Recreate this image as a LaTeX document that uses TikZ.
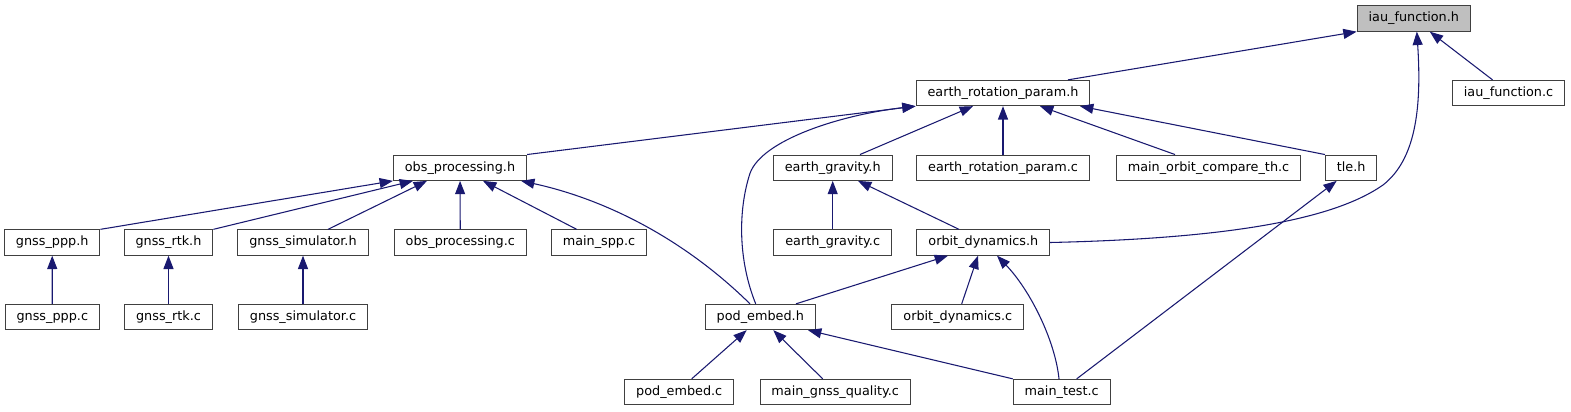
\documentclass[tikz,border=0pt]{standalone}
\usepackage{fontspec}
\setmainfont{DejaVu Sans}
\usetikzlibrary{arrows.meta,calc}
\definecolor{edgeblue}{HTML}{191970}
\definecolor{boxgray}{HTML}{404040}
\definecolor{rootfill}{HTML}{BFBFBF}

\begin{document}
\begin{tikzpicture}[
  x=0.75pt, y=-0.75pt,
  >={Triangle[length=10pt, width=7.5pt]},
  filebox/.style={draw=boxgray, line width=0.75pt, fill=white, font=\fontsize{9.6}{11}\selectfont,
    inner xsep=8.6pt, inner ysep=0pt, minimum height=19pt, text height=7.2pt, text depth=2.2pt},
  rootbox/.style={filebox, fill=rootfill},
  incl/.style={->, draw=edgeblue, line width=0.8pt},
]
  \useasboundingbox (0,0) rectangle (1571,411);

  % Row 0 and 1
  \node[rootbox] (iauh) at (1413.8,18.5) {iau\_function.h};
  \node[filebox] (erph) at (1003,93) {earth\_rotation\_param.h};
  \node[filebox] (iauc) at (1508.5,93) {iau\_function.c};

  % Row 2
  \node[filebox] (obsh) at (460,167.7) {obs\_processing.h};
  \node[filebox] (egh) at (832.7,167.7) {earth\_gravity.h};
  \node[filebox] (erpc) at (1003,167.7) {earth\_rotation\_param.c};
  \node[filebox] (mocth) at (1208.5,167.7) {main\_orbit\_compare\_th.c};
  \node[filebox] (tleh) at (1351.2,167.7) {tle.h};

  % Row 3
  \node[filebox] (ppph) at (52.2,242.5) {gnss\_ppp.h};
  \node[filebox] (rtkh) at (168.5,242.5) {gnss\_rtk.h};
  \node[filebox] (simh) at (303,242.5) {gnss\_simulator.h};
  \node[filebox] (obsc) at (460.3,242.5) {obs\_processing.c};
  \node[filebox] (sppc) at (599,242.5) {main\_spp.c};
  \node[filebox] (egc) at (832.7,242.5) {earth\_gravity.c};
  \node[filebox] (odh) at (983.3,242.5) {orbit\_dynamics.h};

  % Row 4
  \node[filebox] (pppc) at (52.3,317) {gnss\_ppp.c};
  \node[filebox] (rtkc) at (168.5,317) {gnss\_rtk.c};
  \node[filebox] (simc) at (303,317) {gnss\_simulator.c};
  \node[filebox] (podh) at (760.3,317) {pod\_embed.h};
  \node[filebox] (odc) at (957.8,317) {orbit\_dynamics.c};

  % Row 5
  \node[filebox] (podc) at (679.2,392) {pod\_embed.c};
  \node[filebox] (mgqc) at (835.2,392) {main\_gnss\_quality.c};
  \node[filebox] (mtc) at (1061.7,392) {main\_test.c};

  % Included by iau_function.h
  \draw[incl] ($(erph.north)+(65,0)$) -- (iauh.south west);
  \draw[incl] ($(iauc.north)+(-16,0)$) -- ($(iauh.south)+(16,0)$);
  \draw[incl] (odh.east) .. controls (1250,238) and (1340,215) .. (1383,185)
    .. controls (1415,160) and (1422,110) .. ($(iauh.south)+(3,0)$);

  % Included by earth_rotation_param.h
  \draw[incl] (obsh.north east) -- (erph.south west);
  \draw[incl] ($(podh.north)+(-4.6,0)$) .. controls (738,260) and (738,210) .. (750,173.3)
    .. controls (762,140) and (840,115) .. (erph.south west);
  \draw[incl] ($(egh.north)+(27.3,0)$) -- ($(erph.south)+(-30,0)$);
  \draw[incl] (erpc) -- (erph);
  \draw[incl] ($(mocth.north)+(-33.5,0)$) -- ($(erph.south)+(37,0)$);
  \draw[incl] (tleh.north west) -- ($(erph.south)+(77,0)$);

  % Included by obs_processing.h
  \draw[incl] (ppph.north east) -- (obsh.south west);
  \draw[incl] (rtkh.north east) -- ($(obsh.south)+(-47,0)$);
  \draw[incl] ($(simh.north)+(25,0)$) -- ($(obsh.south)+(-33,0)$);
  \draw[incl] (obsc) -- (obsh);
  \draw[incl] ($(sppc.north)+(-22.3,0)$) -- ($(obsh.south)+(23,0)$);
  \draw[incl] ($(podh.north)+(-10.3,0)$) .. controls (680,235) and (600,198) .. ($(obsh.south east)+(-6,0)$);

  % Sources under their headers
  \draw[incl] (pppc) -- (ppph);
  \draw[incl] (rtkc) -- (rtkh);
  \draw[incl] (simc) -- (simh);
  \draw[incl] (egc) -- (egh);

  % Orbit dynamics and pod_embed
  \draw[incl] ($(odh.north)+(-24.3,0)$) -- ($(egh.south)+(25.3,0)$);
  \draw[incl] ($(podh.north)+(35.7,0)$) -- ($(odh.south)+(-35.3,0)$);
  \draw[incl] ($(odc.north)+(3.9,0)$) -- ($(odh.south)+(-5.3,0)$);
  \draw[incl] ($(mtc.north)+(-2.7,0)$) .. controls (1055,340) and (1030,290) .. ($(odh.south)+(13.7,0)$);
  \draw[incl] ($(podc.north)+(12.5,0)$) -- ($(podh.south)+(-13.6,0)$);
  \draw[incl] ($(mgqc.north)+(-12.5,0)$) -- ($(podh.south)+(13,0)$);
  \draw[incl] (mtc.north west) -- ($(podh.south)+(47.7,0)$);
  \draw[incl] ($(mtc.north)+(15,0)$) -- ($(tleh.south)+(-14.5,0)$);

\end{tikzpicture}
\end{document}
